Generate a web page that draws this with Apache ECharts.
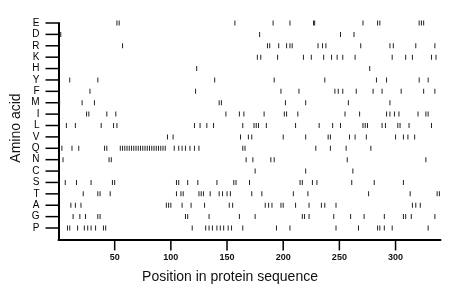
<!DOCTYPE html>
<html>
<head>
<meta charset="utf-8">
<script src="https://cdn.jsdelivr.net/npm/echarts@6/dist/echarts.min.js"></script>
<style>html,body{margin:0;padding:0;background:#fff;}#c{width:460px;height:299px;}</style>
</head>
<body>
<div id="c"></div>
<script>
// Amino acids listed bottom to top; the empty first slot is the axis baseline
const aminoAcids = ["", "P","G","A","T","S","C","N","Q","V","L","I","M","F","Y","H","K","R","D","E"];
const xTicks = [50, 100, 150, 200, 250, 300];
const xTickStep = 50;
const xMax = 340;

const posE = [52, 54, 157, 191, 206, 227, 228, 271, 284, 286, 321, 323, 325];
const posD = [2, 179, 251, 263];
const posR = [57, 186, 188, 196, 203, 206, 208, 231, 235, 238, 269, 295, 298, 318, 335];
const posK = [177, 180, 195, 218, 225, 236, 243, 248, 253, 264, 297, 309, 315, 332, 336];
const posH = [123, 277];
const posY = [10, 35, 139, 192, 237, 283, 292, 321, 329];
const posF = [28, 122, 198, 214, 246, 249, 253, 265, 280, 288, 305, 325, 335];
const posM = [1, 21, 32, 143, 145, 202, 220, 258, 295];
const posI = [25, 27, 43, 51, 149, 161, 165, 183, 201, 203, 213, 255, 268, 292, 295, 299, 303, 320, 327, 329];
const posL = [7, 15, 38, 49, 52, 121, 126, 132, 138, 164, 174, 176, 178, 185, 211, 232, 244, 251, 271, 273, 275, 288, 291, 302, 304, 312, 332];
const posV = [97, 102, 162, 169, 172, 200, 220, 240, 242, 259, 264, 274, 300, 307, 311, 317];
const posQ = [3, 12, 18, 41, 43, 55, 57, 59, 61, 63, 65, 67, 69, 71, 73, 75, 77, 79, 81, 83, 85, 87, 89, 91, 93, 95, 103, 107, 110, 113, 117, 121, 125, 164, 166, 229, 242, 256, 278];
const posN = [4, 45, 47, 167, 173, 189, 192, 257, 327];
const posC = [175, 220, 262];
const posS = [6, 16, 29, 48, 50, 105, 107, 115, 124, 141, 156, 158, 170, 215, 217, 226, 230, 261, 281, 307];
const posT = [22, 35, 37, 46, 105, 109, 111, 125, 127, 129, 135, 143, 146, 150, 153, 172, 181, 209, 222, 276, 313, 337, 339];
const posA = [11, 15, 20, 96, 98, 100, 110, 118, 130, 152, 155, 184, 187, 190, 198, 200, 211, 223, 234, 237, 247, 315, 318, 322];
const posG = [13, 19, 24, 35, 37, 113, 115, 134, 161, 175, 217, 219, 223, 245, 260, 272, 290, 307, 309, 314, 335];
const posP = [8, 10, 17, 23, 26, 29, 33, 40, 42, 119, 131, 134, 137, 141, 144, 147, 151, 154, 164, 194, 206, 247, 267, 284, 286, 290, 297, 329];

const rows = {P: posP, G: posG, A: posA, T: posT, S: posS, C: posC, N: posN, Q: posQ, V: posV,
  L: posL, I: posI, M: posM, F: posF, Y: posY, H: posH, K: posK, R: posR, D: posD, E: posE};

const xCats = [];
for (let i = 0; i <= xMax; i++) xCats.push(String(i));

const data = [];
aminoAcids.forEach((aa, idx) => { if (aa) rows[aa].forEach(p => data.push([p, idx])); });

// axis tick positions expressed in data units, drawn through the axes' scales
const xTickData = xTicks.map(v => [v, 0]);
const yTickData = [];
aminoAcids.forEach((aa, idx) => { if (aa) yTickData.push([0, idx]); });

const chart = echarts.init(document.getElementById('c'), null, {renderer: 'canvas'});
const font = '"Liberation Sans", Arial, sans-serif';
chart.setOption({
  animation: false,
  backgroundColor: '#fff',
  grid: {left: 58.5, right: 19.5, top: 23, bottom: 59.6},
  xAxis: {
    type: 'category', data: xCats, boundaryGap: false,
    axisLine: {show: true, lineStyle: {color: '#000', width: 2}},
    axisTick: {show: false},
    axisLabel: {interval: xTickStep - 1, margin: 14, fontSize: 9, fontWeight: 'bold', color: '#111',
      fontFamily: font, formatter: (v) => (v === '0' ? '' : v)}
  },
  yAxis: {
    type: 'category', data: aminoAcids, boundaryGap: false,
    axisLine: {show: true, lineStyle: {color: '#000', width: 2}},
    axisTick: {show: false},
    axisLabel: {interval: 0, margin: 19, fontSize: 10, color: '#000', fontFamily: font}
  },
  graphic: [
    {type: 'text', left: 'center', top: 270, style: {text: 'Position in protein sequence', fontSize: 14, fontFamily: font, fill: '#111'}},
    {type: 'text', x: 16.5, y: 128, rotation: Math.PI / 2, style: {text: 'Amino acid', fontSize: 14, fontFamily: font, fill: '#111', align: 'center', verticalAlign: 'middle'}}
  ],
  series: [{
    type: 'scatter',
    data: data,
    symbol: 'rect',
    symbolSize: [1, 5],
    itemStyle: {color: '#222', opacity: 1}
  }, {
    type: 'custom',
    clip: false,
    silent: true,
    data: xTickData,
    renderItem: (params, api) => {
      const p = api.coord([api.value(0), api.value(1)]);
      return {type: 'line', shape: {x1: p[0], y1: p[1], x2: p[0], y2: p[1] + 11},
        style: {stroke: '#000', lineWidth: 1.5}};
    }
  }, {
    type: 'custom',
    clip: false,
    silent: true,
    data: yTickData,
    renderItem: (params, api) => {
      const p = api.coord([api.value(0), api.value(1)]);
      return {type: 'line', shape: {x1: p[0] - 13, y1: p[1], x2: p[0], y2: p[1]},
        style: {stroke: '#000', lineWidth: 1.5}};
    }
  }]
});
</script>
</body>
</html>
